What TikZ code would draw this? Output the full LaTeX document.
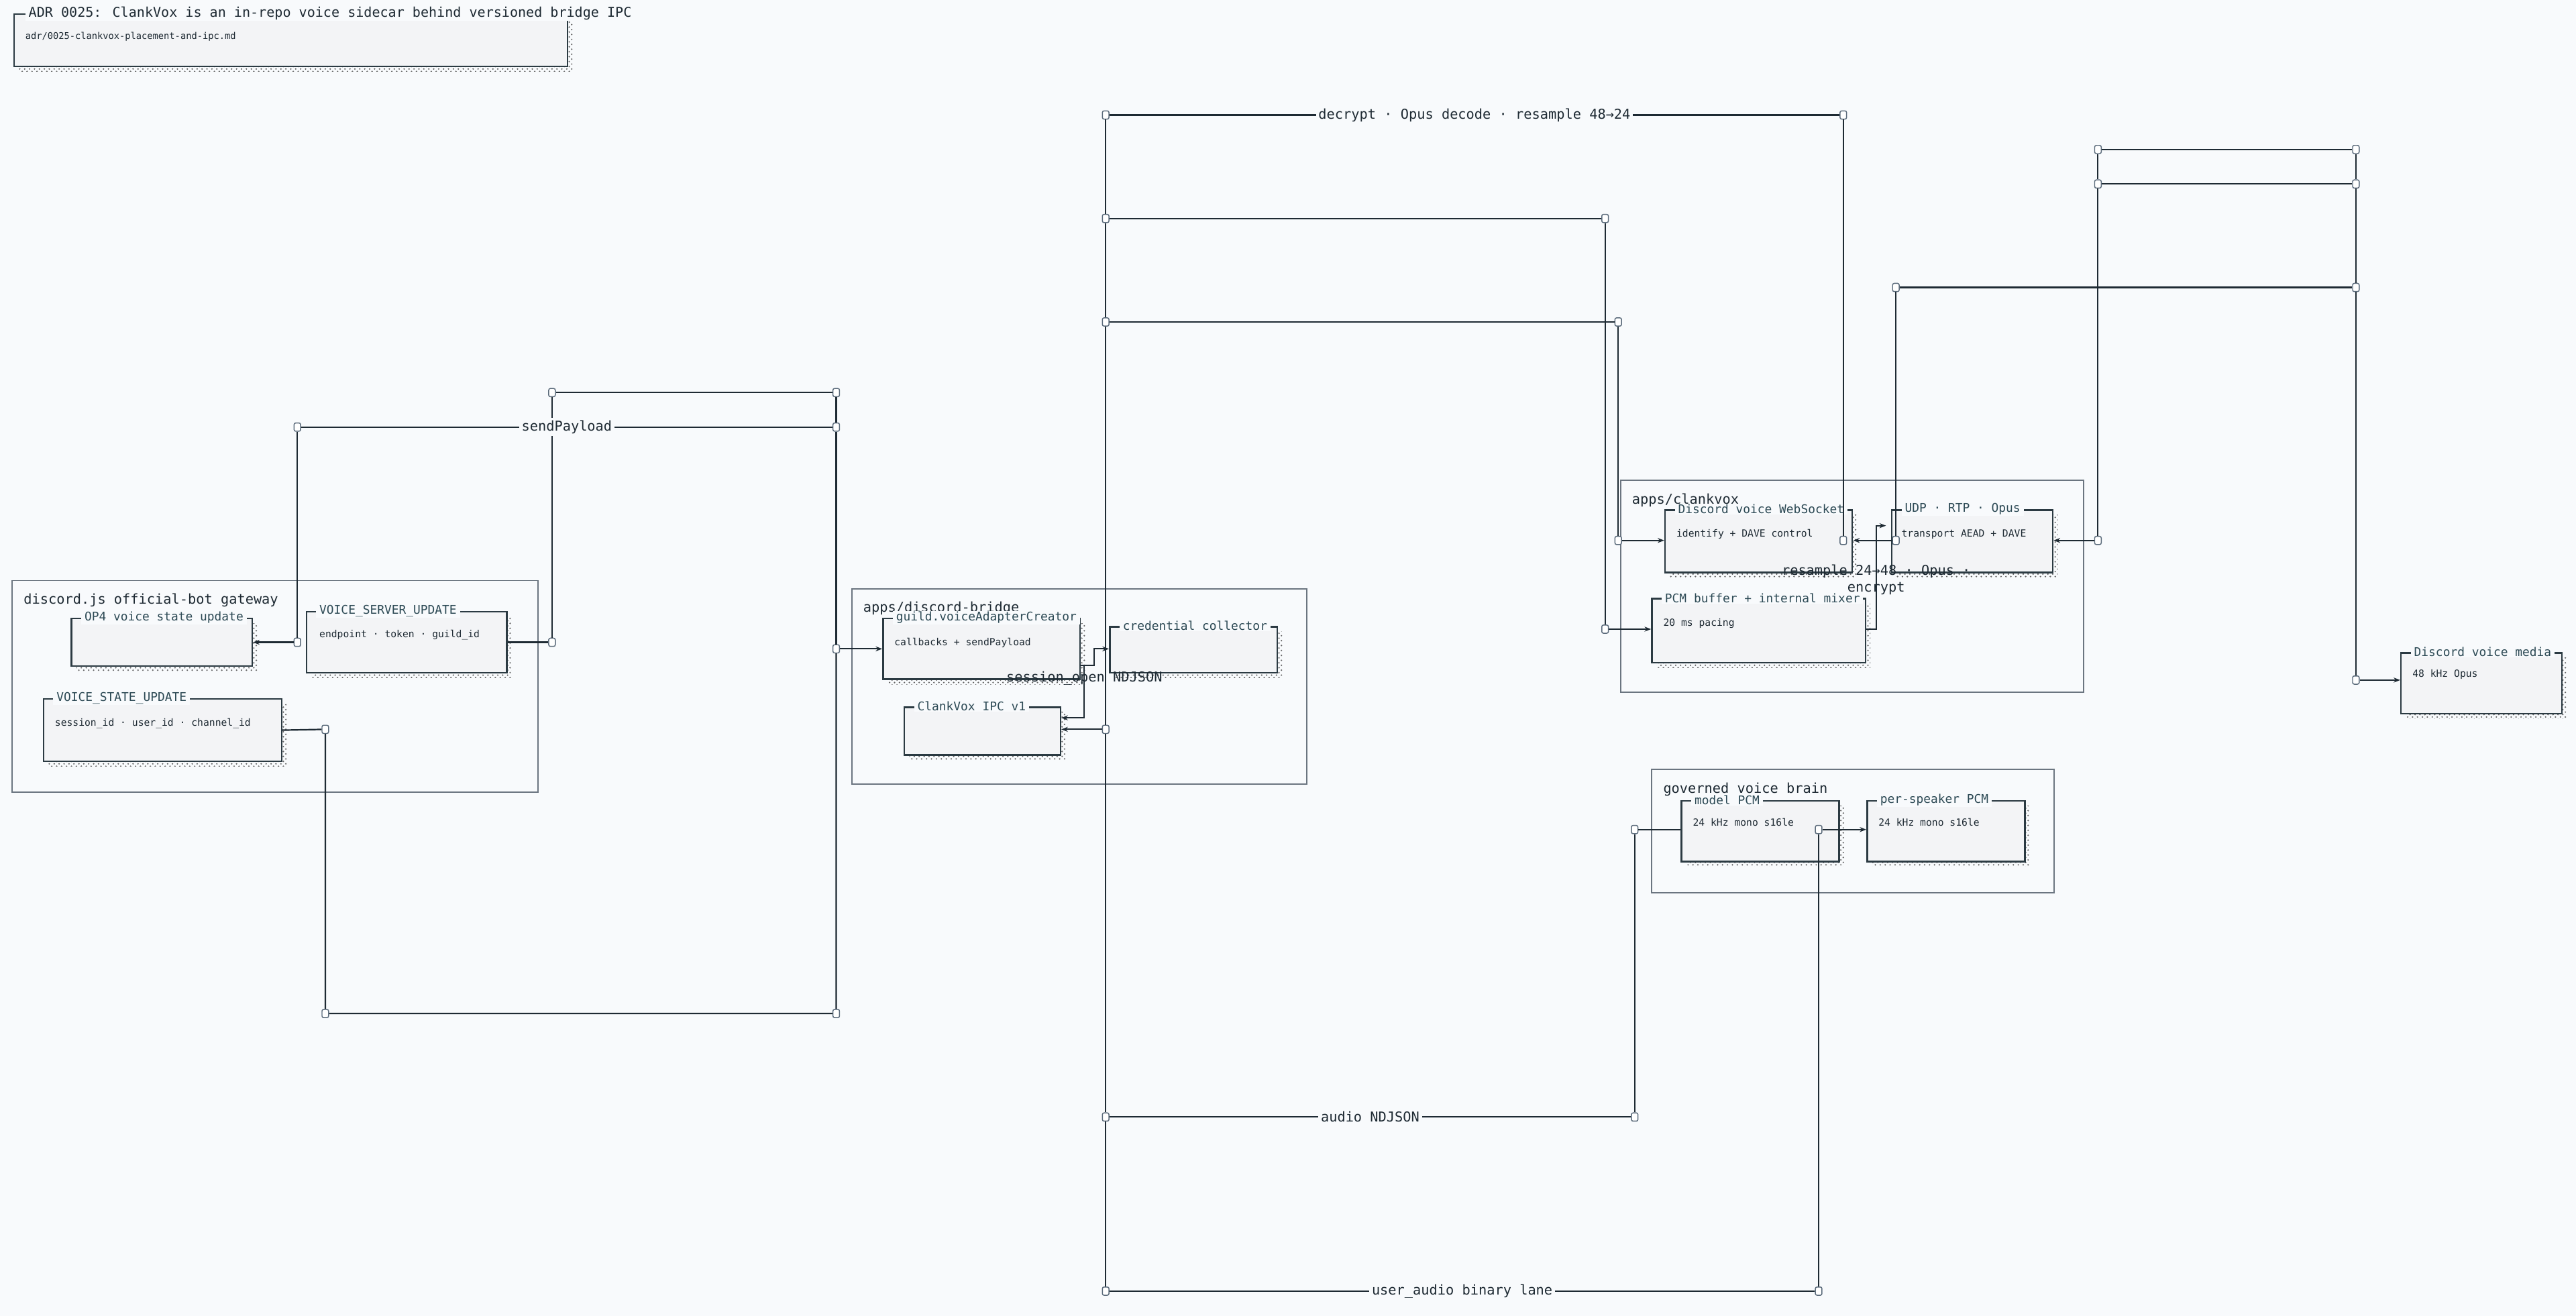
\documentclass[tikz,border=0pt]{standalone}
\usepackage{fontspec}
\setmainfont{DejaVu Sans Mono}
\usetikzlibrary{positioning,patterns,arrows.meta}
\definecolor{pagebg}{HTML}{F8FAFC}
\definecolor{cardbg}{HTML}{F3F4F6}
\definecolor{ink}{HTML}{1E2A33}
\definecolor{edge}{HTML}{2B3A42}
\definecolor{grpedge}{HTML}{6B7580}
\definecolor{ttlink}{HTML}{2D4A55}
\definecolor{portedge}{HTML}{5B6B7B}
\tikzset{every picture/.style={line width=0.9pt}}
\tikzset{
  card/.style={draw=edge, fill=cardbg, line width=1pt, inner sep=0pt, anchor=north west,
    preaction={draw=none, pattern=crosshatch dots, pattern color=black!60,
      transform canvas={shift={(3,3)}}}},
  grp/.style={draw=grpedge, fill=pagebg, line width=0.8pt, inner sep=0pt, anchor=north west},
  ttl/.style={fill=pagebg, text=ttlink, inner xsep=2pt, inner ysep=0.5pt, font=\fontsize{7.3}{8}\selectfont},
  body/.style={inner sep=0pt, text=ink, font=\fontsize{6}{7}\selectfont},
  glab/.style={inner sep=0pt, anchor=north west, text=ink, font=\fontsize{8.3}{9}\selectfont},
  port/.style={draw=portedge, fill=white, rounded corners=1pt, minimum width=4pt, minimum height=5pt, inner sep=0pt, line width=0.6pt},
  wire/.style={draw=ink, line width=0.9pt},
  tip/.style={-{Stealth[length=4pt,width=3pt]}},
  wlab/.style={fill=pagebg, text=ink, inner sep=1.5pt, font=\fontsize{8.3}{9}\selectfont},
}
\begin{document}
\begin{tikzpicture}[x=1pt,y=-1pt]
    \useasboundingbox[fill=pagebg] (0,0) rectangle (1568,801);

    %Title card
    \node[card, minimum width=337, minimum height=32] (adr) at (8,8) {};
    \node[ttl, text=ink, font=\fontsize{8.2}{9}\selectfont, right=7pt of adr.north west] {ADR 0025: ClankVox is an in-repo voice sidecar behind versioned bridge IPC};
    \node[body, font=\fontsize{5.6}{6}\selectfont, below right=11pt and 7pt of adr.north west] {adr/0025-clankvox-placement-and-ipc.md};

    %Groups
    \node[grp, minimum width=320, minimum height=129] (gw) at (7,353) {};
    \node[glab] at (14,361) {discord.js official-bot gateway};
    \node[grp, minimum width=277, minimum height=119] (br) at (518,358) {};
    \node[glab] at (525,366) {apps/discord-bridge};
    \node[grp, minimum width=282, minimum height=129] (cv) at (986,292) {};
    \node[glab] at (993,300) {apps/clankvox};
    \node[grp, minimum width=245, minimum height=75] (vb) at (1005,468) {};
    \node[glab] at (1012,476) {governed voice brain};

    %Cards
    \node[card, minimum width=110, minimum height=29] (op4) at (43,376) {};
    \node[ttl, right=6pt of op4.north west] {OP4 voice state update};
    \node[card, minimum width=122, minimum height=37] (vsu) at (186,372) {};
    \node[ttl, right=6pt of vsu.north west] {VOICE\_SERVER\_UPDATE};
    \node[body, below right=11pt and 8pt of vsu.north west] {endpoint · token · guild\_id};
    \node[card, minimum width=145, minimum height=38] (vst) at (26,425) {};
    \node[ttl, right=6pt of vst.north west] {VOICE\_STATE\_UPDATE};
    \node[body, below right=12pt and 7pt of vst.north west] {session\_id · user\_id · channel\_id};

    \node[card, minimum width=120, minimum height=37] (guild) at (537,376) {};
    \node[ttl, right=6pt of guild.north west] {guild.voiceAdapterCreator};
    \node[body, below right=12pt and 7pt of guild.north west] {callbacks + sendPayload};
    \node[card, minimum width=102, minimum height=28] (cred) at (675,381) {};
    \node[ttl, right=6pt of cred.north west] {credential collector};
    \node[card, minimum width=95, minimum height=29] (ipc) at (550,430) {};
    \node[ttl, right=6pt of ipc.north west] {ClankVox IPC v1};

    \node[card, minimum width=114, minimum height=38] (ws) at (1013,310) {};
    \node[ttl, right=6pt of ws.north west] {Discord voice WebSocket};
    \node[body, below right=12pt and 7pt of ws.north west] {identify + DAVE control};
    \node[card, minimum width=98, minimum height=38] (udp) at (1151,310) {};
    \node[ttl, right=6pt of udp.north west] {UDP · RTP · Opus};
    \node[body, below right=12pt and 6pt of udp.north west] {transport AEAD + DAVE};
    \node[card, minimum width=130, minimum height=39] (pcm) at (1005,364) {};
    \node[ttl, right=6pt of pcm.north west] {PCM buffer + internal mixer};
    \node[body, below right=12pt and 7pt of pcm.north west] {20 ms pacing};

    \node[card, minimum width=98, minimum height=37] (media) at (1461,397) {};
    \node[ttl, right=6pt of media.north west] {Discord voice media};
    \node[body, below right=10pt and 7pt of media.north west] {48 kHz Opus};

    \node[card, minimum width=96, minimum height=37] (model) at (1023,487) {};
    \node[ttl, right=6pt of model.north west] {model PCM};
    \node[body, below right=11pt and 7pt of model.north west] {24 kHz mono s16le};
    \node[card, minimum width=96, minimum height=37] (spk) at (1136,487) {};
    \node[ttl, right=6pt of spk.north west] {per-speaker PCM};
    \node[body, below right=11pt and 7pt of spk.north west] {24 kHz mono s16le};

    %Gateway wiring
    \node[port] (pA) at (181,391) {};
    \node[port] (pB) at (181,260) {};
    \node[port] (pC) at (509,260) {};
    \node[port] (pD) at (509,395) {};
    \node[port] (pE) at (336,391) {};
    \node[port] (pF) at (336,239) {};
    \node[port] (pG) at (509,239) {};
    \node[port] (pH) at (198,444) {};
    \node[port] (pI) at (198,617) {};
    \node[port] (pJ) at (509,617) {};
    \draw[wire] (vsu.east) -- (pE);
    \draw[wire] (pE) -- (pF) -- (pG) -- (pC) -- (pD);
    \draw[wire,tip] (pD) -- (pD -| guild.west);
    \draw[wire] (pC) -- node[wlab]{sendPayload} (pB) -- (pA);
    \draw[wire,tip] (pA) -- (pA -| op4.east);
    \draw[wire] (vst.east) -- (pH) -- (pI) -- (pJ) -- (pD);

    %Bridge local
    \coordinate (g1) at (666,405);
    \coordinate (g2) at (666,395);
    \coordinate (h1) at (660,405);
    \coordinate (h2) at (660,437);
    \draw[wire,tip] (guild.east |- g1) -- (g1) -- (g2) -- (g2 -| cred.west);
    \draw[wire,tip] (h1) -- (h2) -- (h2 -| ipc.east);
    \node[inner sep=0pt, text=ink, font=\fontsize{8.3}{9}\selectfont] at (660,413) {session\_open NDJSON};

    %Trunk
    \node[port] (t1) at (673,70) {};
    \node[port] (t2) at (673,133) {};
    \node[port] (t3) at (673,196) {};
    \node[port] (t4) at (673,444) {};
    \node[port] (t5) at (673,680) {};
    \node[port] (t6) at (673,786) {};
    \draw[wire] (t1) -- (t2) -- (t3) -- (t4) -- (t5) -- (t6);
    \draw[wire,tip] (t4) -- (t4 -| ipc.east);

    \node[port] (q1) at (1122,70) {};
    \node[port] (q2) at (1122,329) {};
    \node[port] (r1) at (977,133) {};
    \node[port] (r2) at (977,383) {};
    \node[port] (s1) at (985,196) {};
    \node[port] (s2) at (985,329) {};
    \node[port] (u1) at (995,680) {};
    \node[port] (u2) at (995,505) {};
    \node[port] (v1) at (1107,786) {};
    \node[port] (v2) at (1107,505) {};
    \draw[wire] (t1) -- node[wlab]{decrypt · Opus decode · resample 48→24} (q1) -- (q2);
    \draw[wire] (t2) -- (r1) -- (r2);
    \draw[wire,tip] (r2) -- (r2 -| pcm.west);
    \draw[wire] (t3) -- (s1) -- (s2);
    \draw[wire,tip] (s2) -- (s2 -| ws.west);
    \draw[wire] (t5) -- node[wlab]{audio NDJSON} (u1) -- (u2) -- (u2 -| model.west);
    \draw[wire] (t6) -- node[wlab]{user\_audio binary lane} (v1) -- (v2);
    \draw[wire,tip] (v2) -- (v2 -| spk.west);

    %ClankVox out to Discord
    \node[port] (w1) at (1154,329) {};
    \node[port] (w2) at (1154,175) {};
    \node[port] (w3) at (1434,175) {};
    \node[port] (x1) at (1277,91) {};
    \node[port] (x2) at (1434,91) {};
    \node[port] (x3) at (1277,112) {};
    \node[port] (x4) at (1434,112) {};
    \node[port] (x5) at (1277,329) {};
    \node[port] (x6) at (1434,414) {};
    \draw[wire,tip] (w1) -- (w1 -| ws.east);
    \draw[wire] (w1) -- (w2) -- (w3);
    \draw[wire] (x1) -- (x2);
    \draw[wire] (x3) -- (x4);
    \draw[wire] (x1) -- (x3) -- (x5);
    \draw[wire,tip] (x5) -- (x5 -| udp.east);
    \draw[wire] (x2) -- (x4) -- (w3) -- (x6);
    \draw[wire,tip] (x6) -- (x6 -| media.west);

    \coordinate (k1) at (1142,383);
    \coordinate (k2) at (1142,320);
    \draw[wire,tip] (pcm.east |- k1) -- (k1) -- (k2) -- (1148,320);
    \node[inner sep=0pt, align=center, text=ink, font=\fontsize{8.3}{10}\selectfont] at (1142,353) {resample 24→48 · Opus ·\\encrypt};
\end{tikzpicture}
\end{document}
